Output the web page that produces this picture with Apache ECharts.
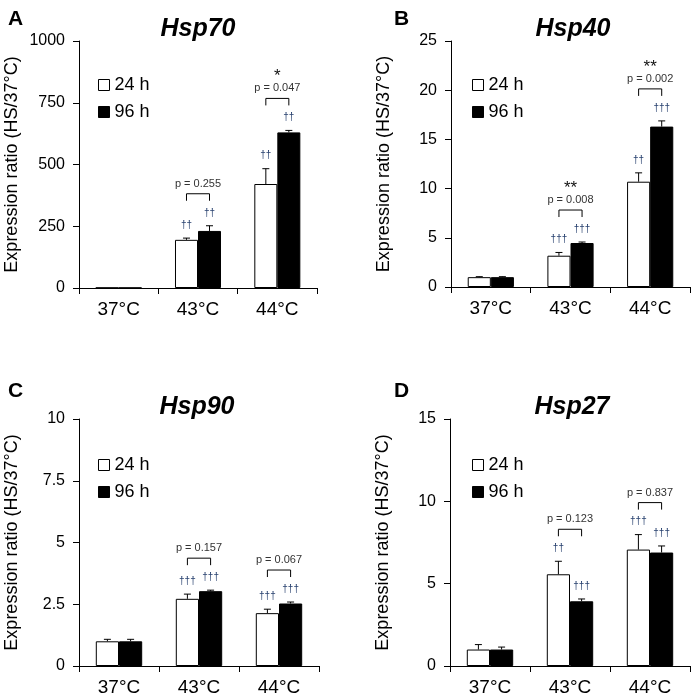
<!DOCTYPE html>
<html><head><meta charset="utf-8">
<script src="https://cdn.jsdelivr.net/npm/echarts@6/dist/echarts.min.js"></script>
<style>html,body{margin:0;padding:0;background:#fff}#c{width:694px;height:697px}</style>
</head><body><div id="c"></div>
<script>
// ---- data ----
const categories = ['37°C', '43°C', '44°C'];
const seriesNames = ['24 h', '96 h'];

const hsp70_24 = [1, 195, 421];
const hsp70_24_err = [0, 7, 62];
const hsp70_96 = [1, 231, 630];
const hsp70_96_err = [0, 21, 8];
const hsp70_dag24 = ['', '††', '††'];
const hsp70_dag96 = ['', '††', '††'];
const hsp70_p = ['', 'p = 0.255', 'p = 0.047'];
const hsp70_star = ['', '', '*'];
const hsp70_ticks = [0, 1000, 250];

const hsp40_24 = [1.0, 3.18, 10.7];
const hsp40_24_err = [0.05, 0.33, 0.9];
const hsp40_96 = [1.0, 4.47, 16.3];
const hsp40_96_err = [0.05, 0.1, 0.58];
const hsp40_dag24 = ['', '†††', '††'];
const hsp40_dag96 = ['', '†††', '†††'];
const hsp40_p = ['', 'p = 0.008', 'p = 0.002'];
const hsp40_star = ['', '**', '**'];
const hsp40_ticks = [0, 25, 5];

const hsp90_24 = [1.0, 2.72, 2.14];
const hsp90_24_err = [0.08, 0.19, 0.16];
const hsp90_96 = [1.0, 3.03, 2.53];
const hsp90_96_err = [0.08, 0.04, 0.06];
const hsp90_dag24 = ['', '†††', '†††'];
const hsp90_dag96 = ['', '†††', '†††'];
const hsp90_p = ['', 'p = 0.157', 'p = 0.067'];
const hsp90_star = ['', '', ''];
const hsp90_ticks = [0, 10, 2.5];

const hsp27_24 = [1.0, 5.57, 7.07];
const hsp27_24_err = [0.3, 0.79, 0.91];
const hsp27_96 = [1.0, 3.93, 6.89];
const hsp27_96_err = [0.15, 0.14, 0.4];
const hsp27_dag24 = ['', '††', '†††'];
const hsp27_dag96 = ['', '†††', '†††'];
const hsp27_p = ['', 'p = 0.123', 'p = 0.837'];
const hsp27_star = ['', '', ''];
const hsp27_ticks = [0, 15, 5];

const panelLetters = ['A', 'B', 'C', 'D'];
const panelTitles = ['Hsp70', 'Hsp40', 'Hsp90', 'Hsp27'];
const yName = 'Expression ratio (HS/37°C)';

// ---- layout ----
const panels = [
  {w: hsp70_24, we: hsp70_24_err, b: hsp70_96, be: hsp70_96_err, dw: hsp70_dag24, db: hsp70_dag96, p: hsp70_p, s: hsp70_star, t: hsp70_ticks,
   grid: {left: 79, top: 41, width: 238, height: 247}, letter: [3, 4], title: [193, 12], legend: [93, 71]},
  {w: hsp40_24, we: hsp40_24_err, b: hsp40_96, be: hsp40_96_err, dw: hsp40_dag24, db: hsp40_dag96, p: hsp40_p, s: hsp40_star, t: hsp40_ticks,
   grid: {left: 451, top: 41, width: 239, height: 246}, letter: [389, 4], title: [568, 12], legend: [467, 71]},
  {w: hsp90_24, we: hsp90_24_err, b: hsp90_96, be: hsp90_96_err, dw: hsp90_dag24, db: hsp90_dag96, p: hsp90_p, s: hsp90_star, t: hsp90_ticks,
   grid: {left: 79, top: 419, width: 240, height: 247}, letter: [3, 376], title: [192, 390], legend: [93, 451]},
  {w: hsp27_24, we: hsp27_24_err, b: hsp27_96, be: hsp27_96_err, dw: hsp27_dag24, db: hsp27_dag96, p: hsp27_p, s: hsp27_star, t: hsp27_ticks,
   grid: {left: 450, top: 419, width: 240, height: 247}, letter: [389, 376], title: [567, 390], legend: [467, 451]}
];

const FONT = 'Liberation Sans, Arial, sans-serif';
const CAT_GAP = 0.42;
const DAG_COLOR = '#27406e';

const option = {
  animation: false,
  backgroundColor: '#fff',
  textStyle: {fontFamily: FONT},
  title: [], legend: [], grid: [], xAxis: [], yAxis: [], series: []
};

panels.forEach((P, i) => {
  option.title.push({text: panelLetters[i], left: P.letter[0], top: P.letter[1],
    textStyle: {fontFamily: FONT, fontSize: 21, fontWeight: 'bold', color: '#000'}});
  option.title.push({text: panelTitles[i], left: P.title[0], top: P.title[1], textAlign: 'center',
    textStyle: {fontFamily: FONT, fontSize: 25, fontWeight: 'bold', fontStyle: 'italic', color: '#000'}});
  option.legend.push({data: seriesNames, orient: 'vertical', left: P.legend[0], top: P.legend[1],
    itemWidth: 11, itemHeight: 11, itemGap: 9, selectedMode: false, icon: 'rect',
    itemStyle: {borderWidth: 1, borderColor: '#000'},
    textStyle: {fontFamily: FONT, fontSize: 18, color: '#000'}});
  option.grid.push(Object.assign({containLabel: false}, P.grid));
  option.xAxis.push({type: 'category', gridIndex: i, data: categories,
    axisLine: {lineStyle: {color: '#000', width: 1}},
    axisTick: {show: true, length: 6, lineStyle: {color: '#000'}},
    axisLabel: {fontFamily: FONT, fontSize: 19, color: '#000', margin: 12}});
  option.yAxis.push({type: 'value', gridIndex: i, min: P.t[0], max: P.t[1], interval: P.t[2],
    name: yName, nameLocation: 'middle', nameGap: 58,
    nameTextStyle: {fontFamily: FONT, fontSize: 18, color: '#000'},
    splitLine: {show: false},
    axisLine: {show: true, lineStyle: {color: '#000', width: 1}},
    axisTick: {show: true, length: 6, lineStyle: {color: '#000'}},
    axisLabel: {fontFamily: FONT, fontSize: 16, color: '#000', margin: 14, formatter: v => String(v)}});
  option.series.push({type: 'bar', name: seriesNames[0], xAxisIndex: i, yAxisIndex: i, data: P.w,
    barGap: '0%', barCategoryGap: (CAT_GAP * 100) + '%',
    itemStyle: {color: '#fff', borderColor: '#000', borderWidth: 1}});
  option.series.push({type: 'bar', name: seriesNames[1], xAxisIndex: i, yAxisIndex: i, data: P.b,
    barGap: '0%', barCategoryGap: (CAT_GAP * 100) + '%',
    itemStyle: {color: '#000', borderColor: '#000', borderWidth: 1}});

  // error bars + daggers
  const errData = [];
  const dagText = [];
  categories.forEach((c, k) => {
    errData.push([k, P.w[k], P.we[k], -1]); dagText.push(P.dw[k]);
    errData.push([k, P.b[k], P.be[k], 1]); dagText.push(P.db[k]);
  });
  option.series.push({type: 'custom', xAxisIndex: i, yAxisIndex: i, data: errData, z: 5, clip: false,
    renderItem: function (params, api) {
      const k = api.value(0), v = api.value(1), e = api.value(2), side = api.value(3);
      const band = api.size([1, 0])[0];
      const bw = band * (1 - CAT_GAP) / 2;
      const base = api.coord([k, v]);
      const cx = base[0] + side * bw / 2;
      const top = base[1];
      const cap = api.coord([k, v + e])[1];
      const children = [];
      if (e > 0) {
        children.push({type: 'line', shape: {x1: cx, y1: top, x2: cx, y2: cap}, style: {stroke: '#000', lineWidth: 1}});
        children.push({type: 'line', shape: {x1: cx - 3.5, y1: cap, x2: cx + 3.5, y2: cap}, style: {stroke: '#000', lineWidth: 1}});
      }
      const t = dagText[params.dataIndex];
      if (t) children.push({type: 'text', style: {text: t, x: cx, y: cap - 13, align: 'center', verticalAlign: 'middle',
        font: '10px ' + FONT, fill: DAG_COLOR}});
      return {type: 'group', children: children};
    }});

  // brackets, p values, stars
  const brData = [];
  const brText = [];
  categories.forEach((c, k) => {
    if (P.p[k]) {
      brData.push([k, P.w[k] + P.we[k], P.b[k] + P.be[k]]);
      brText.push([P.p[k], P.s[k]]);
    }
  });
  option.series.push({type: 'custom', xAxisIndex: i, yAxisIndex: i, data: brData, z: 6, clip: false,
    renderItem: function (params, api) {
      const k = api.value(0);
      const band = api.size([1, 0])[0];
      const bw = band * (1 - CAT_GAP) / 2;
      const cx = api.coord([k, 0])[0];
      const c1 = api.coord([k, api.value(1)])[1];
      const c2 = api.coord([k, api.value(2)])[1];
      const y = Math.min(c1, c2) - 32;
      const x1 = cx - bw / 2, x2 = cx + bw / 2;
      const txt = brText[params.dataIndex];
      const children = [
        {type: 'polyline', shape: {points: [[x1, y + 7], [x1, y], [x2, y], [x2, y + 7]]}, style: {stroke: '#000', lineWidth: 1, fill: null}},
        {type: 'text', style: {text: txt[0], x: cx, y: y - 10, align: 'center', verticalAlign: 'middle', font: '11px ' + FONT, fill: '#333'}}
      ];
      if (txt[1]) children.push({type: 'text', style: {text: txt[1], x: cx, y: y - 22, align: 'center', verticalAlign: 'middle', font: '17px ' + FONT, fill: '#111'}});
      return {type: 'group', children: children};
    }});
});

const chart = echarts.init(document.getElementById('c'), null, {renderer: 'canvas'});
chart.setOption(option);
</script>
</body></html>
